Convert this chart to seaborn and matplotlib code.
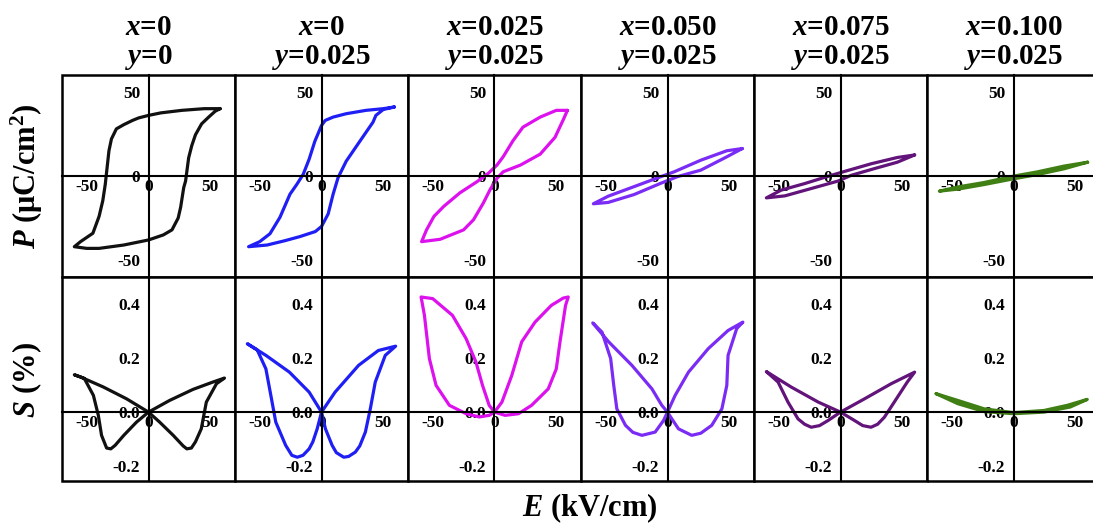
import numpy as np
import matplotlib
matplotlib.use("Agg")
import matplotlib.pyplot as plt
import seaborn as sns
from matplotlib.patches import Rectangle
from matplotlib.ticker import MultipleLocator

# Column headers
x_vals = ['0', '0', '0.025', '0.050', '0.075', '0.100']
y_vals = ['0', '0.025', '0.025', '0.025', '0.025', '0.025']
colors = ['#111111', '#1f1ff5', '#dd11ee', '#7a2cf5', '#62147a', '#3f7f14']

# P-E loops (E in kV/cm, P in uC/cm2)
pe_E1 = [58, 45, 27, 10, 0, -8, -13, -20, -26, -30, -32, -33.5, -35, -37, -40, -45, -55, -60,
         -50, -40, -20, 0, 12, 19, 24, 26, 28.5, 30, 32.5, 35, 38, 43, 48.7, 54, 58]
pe_P1 = [40, 40, 39, 37.5, 36, 34.5, 33, 30.5, 28, 22, 15, 5, -5, -14.7, -24, -34, -39, -42,
         -43, -43, -41, -38, -35, -32, -25, -18.6, -6.9, -3, 10.8, 18, 24.5, 31, 35, 38.5, 40]
pe_E2 = [59, 50, 36, 20, 9.4, 3, 0, -5.4, -10, -14.8, -20, -25.5, -33.6, -41.7, -50, -59,
         -44, -30, -17.5, -5, 0, 5.4, 9.4, 13.4, 20, 31, 41.7, 44, 50, 59]
pe_P2 = [41, 40, 39, 37, 35, 33, 30, 20.6, 10, 1, -5, -10.8, -24.5, -34.3, -39, -42,
         -41, -38.5, -36, -33, -30, -22.5, -10.8, -1, 8.8, 20.6, 32, 36, 39.5, 41]
pe_E3 = [59, 50, 37, 23, 15, 7, 2, -5, -14, -28, -41, -49, -55, -59,
         -44, -25, -17, -9, -3.5, 2, 7, 21, 37, 49, 56, 59]
pe_P3 = [39, 39, 35, 29, 21, 11.4, 6.5, 1.6, -3.3, -10, -18, -24, -32, -39,
         -37.6, -32, -26, -16, -8, -1.4, 2.5, 6.5, 13, 23, 34, 39]
pe_E4 = [60.5, 48, 27, 5.4, -5.4, -27, -48, -60, -48, -27, -5.4, 8, 27, 48, 60.5]
pe_P4 = [16.3, 15, 9.4, 2.5, -0.4, -6.3, -12, -16.5, -15.7, -11, -4.3, -0.4, 3.5, 11.4, 16.3]
pe_E5 = [60, 46, 25, 6, -7.5, -29, -48, -60, -45, -24, -2, 8.6, 27, 46, 60]
pe_P5 = [12.5, 11, 7.3, 3.3, 0.4, -4.5, -8.4, -13, -11.8, -7.5, -3, 0.4, 4.3, 8.2, 12.5]
pe_E6 = [60, 41, 19, 0.5, -24, -45, -60, -45, -24, 0.5, 19, 41, 60]
pe_P6 = [8.2, 5.9, 2.4, 0, -3.9, -6.5, -9, -7.8, -5.1, -1.6, 0.8, 4.3, 8.2]

# S-E butterfly loops (E in kV/cm, S in %)
se_E1 = [0, 17, 36, 52, 61.5, 55, 46.8, 42.7, 38, 34.7, 31, 28, 20, 9, 0,
         -17.7, -36.6, -55, -60, -52, -44.6, -40.6, -38, -33.9, -30.5, -27, -20, -9.7, 0]
se_S1 = [0, 0.043, 0.084, 0.111, 0.126, 0.105, 0.037, -0.062, -0.11, -0.133, -0.136, -0.125, -0.086, -0.037, 0,
         0.049, 0.093, 0.13, 0.138, 0.125, 0.062, -0.012, -0.086, -0.133, -0.136, -0.123, -0.086, -0.037, 0]
se_E2 = [0, 11, 30, 46, 60, 51.6, 43.5, 39.5, 35.5, 31, 27.4, 22, 18, 12, 8.6, 3.2, 0,
         -3.5, -7, -10, -15, -19.6, -24, -29, -37, -41, -45, -52, -60, -45, -26, -10, 0]
se_S2 = [0, 0.074, 0.173, 0.228, 0.244, 0.21, 0.111, 0.012, -0.074, -0.125, -0.148, -0.164, -0.167, -0.15, -0.123, -0.062, 0,
         -0.062, -0.11, -0.136, -0.16, -0.167, -0.16, -0.123, -0.037, 0.062, 0.16, 0.23, 0.253, 0.21, 0.148, 0.074, 0]
se_E3 = [0, 6, 14, 22, 32.8, 46, 55.6, 59.7, 57.5, 53, 50, 43.5, 30, 19.4, 8.6, 0,
         -4.3, -12.3, -23, -36.5, -47.3, -52.7, -56.7, -59.4, -50, -34, -23, -15, -9.7, -4.3, 0]
se_S3 = [0, 0.037, 0.136, 0.26, 0.333, 0.395, 0.422, 0.426, 0.395, 0.26, 0.16, 0.086, 0.025, -0.006, -0.012, 0,
         -0.012, -0.018, -0.006, 0.025, 0.099, 0.198, 0.358, 0.426, 0.42, 0.358, 0.272, 0.185, 0.099, 0.025, 0]
se_E4 = [0, 6.2, 17, 33, 49, 61, 56, 49, 48, 44, 35.8, 27, 19.6, 8.9, 3.5, 0,
         -3.2, -10, -20.7, -28, -34, -41, -43.5, -46, -53, -60.5, -47.6, -28.8, -12.6, -4.6, 0]
se_S4 = [0, 0.062, 0.148, 0.235, 0.302, 0.333, 0.309, 0.21, 0.099, 0.012, -0.049, -0.078, -0.086, -0.062, -0.025, 0,
         -0.031, -0.074, -0.086, -0.075, -0.049, 0.012, 0.099, 0.198, 0.296, 0.33, 0.26, 0.173, 0.086, 0.025, 0]
se_E5 = [0, 19.4, 41, 60, 54, 43.5, 35.5, 30, 24.7, 18, 11.3, 0,
         -10, -17, -23.7, -29, -34.4, -42.5, -50.5, -60, -40, -18, 0]
se_S5 = [0, 0.049, 0.105, 0.148, 0.111, 0.037, -0.019, -0.045, -0.056, -0.05, -0.031, 0,
         -0.031, -0.05, -0.056, -0.045, -0.025, 0.037, 0.111, 0.15, 0.093, 0.037, 0]
se_E6 = [-62.6, -45, -23.7, 0, 24.7, 43.5, 59.7, 46, 24.7, 0, -23.7, -45, -62.6]
se_S6 = [0.068, 0.043, 0.012, -0.002, 0.006, 0.025, 0.047, 0.019, 0, -0.006, 0.002, 0.031, 0.068]

pe_E = [pe_E1, pe_E2, pe_E3, pe_E4, pe_E5, pe_E6]
pe_P = [pe_P1, pe_P2, pe_P3, pe_P4, pe_P5, pe_P6]
se_E = [se_E1, se_E2, se_E3, se_E4, se_E5, se_E6]
se_S = [se_S1, se_S2, se_S3, se_S4, se_S5, se_S6]

sns.set_style('white')
plt.rcParams['font.family'] = ['Liberation Serif', 'DejaVu Serif']
plt.rcParams['font.weight'] = 'bold'
plt.rcParams['mathtext.fontset'] = 'custom'
plt.rcParams['mathtext.it'] = 'Liberation Serif:italic:bold'
plt.rcParams['mathtext.rm'] = 'Liberation Serif:bold'
plt.rcParams['mathtext.bf'] = 'Liberation Serif:bold'
plt.rcParams['axes.unicode_minus'] = False
plt.rcParams['text.color'] = 'black'
plt.rcParams['xtick.color'] = 'black'
plt.rcParams['ytick.color'] = 'black'
plt.rcParams['lines.solid_joinstyle'] = 'round'

W, H = 1093, 524
fig = plt.figure(figsize=(W / 100, H / 100), dpi=100)

x0, pw = 62, 173
rows = [(75, 202), (277, 204)]


def style_axis(ax, ylim, ymaj, ymin):
    ax.set_xlim(-70, 70)
    ax.set_ylim(*ylim)
    for s in ['top', 'right']:
        ax.spines[s].set_visible(False)
    for s in ['left', 'bottom']:
        ax.spines[s].set_position('zero')
        ax.spines[s].set_linewidth(1.5)
        ax.spines[s].set_color('black')
    ax.add_patch(Rectangle((0, 0), 1, 1, transform=ax.transAxes, fill=False,
                           lw=1.8, ec='black', clip_on=False, zorder=5))
    ax.xaxis.set_major_locator(MultipleLocator(50))
    ax.xaxis.set_minor_locator(MultipleLocator(10))
    ax.yaxis.set_major_locator(MultipleLocator(ymaj))
    ax.yaxis.set_minor_locator(MultipleLocator(ymin))
    ax.tick_params(axis='x', which='both', direction='in', width=1.2)
    ax.tick_params(axis='y', which='both', direction='out', width=1.2)
    ax.tick_params(which='major', length=4, labelsize=12.5, pad=2)
    ax.tick_params(which='minor', length=2.5)
    ax.set_xlabel('')
    ax.set_ylabel('')
    ax.grid(False)


for k in range(6):
    left = (x0 + pw * k) / W
    # top row: P-E
    top, h = rows[0]
    ax = fig.add_axes([left, 1 - (top + h) / H, pw / W, h / H])
    sns.lineplot(x=pe_E[k], y=pe_P[k], sort=False, estimator=None,
                 color=colors[k], linewidth=2.3, ax=ax)
    style_axis(ax, (-60, 60), 50, 10)
    ax.yaxis.set_major_formatter(plt.FuncFormatter(lambda v, p: f'{v:.0f}'))
    ax.xaxis.set_major_formatter(plt.FuncFormatter(lambda v, p: f'{v:.0f}'))

    # bottom row: S-E
    top, h = rows[1]
    ax = fig.add_axes([left, 1 - (top + h) / H, pw / W, h / H])
    sns.lineplot(x=se_E[k], y=se_S[k], sort=False, estimator=None,
                 color=colors[k], linewidth=2.3, ax=ax)
    style_axis(ax, (-0.255, 0.5), 0.2, 0.05)
    ax.yaxis.set_major_formatter(plt.FuncFormatter(lambda v, p: f'{v:.1f}'))
    ax.xaxis.set_major_formatter(plt.FuncFormatter(lambda v, p: f'{v:.0f}'))

    cx = (x0 + pw * k + pw / 2) / W
    fig.text(cx, 1 - 35 / H, r'$x$=' + x_vals[k], ha='center', va='baseline',
             fontsize=21, fontweight='bold')
    fig.text(cx, 1 - 64 / H, r'$y$=' + y_vals[k], ha='center', va='baseline',
             fontsize=21, fontweight='bold')

fig.text(27 / W, 1 - 176 / H, r'$P$ (μC/cm$^{2}$)', rotation=90, ha='center',
         va='center', fontsize=22, fontweight='bold')
fig.text(27 / W, 1 - 380 / H, r'$S$ (%)', rotation=90, ha='center',
         va='center', fontsize=22, fontweight='bold')
fig.text(590 / W, 1 - 508 / H, r'$E$ (kV/cm)', ha='center', va='center',
         fontsize=22, fontweight='bold')

fig.savefig('out.png', dpi=100, facecolor='white')
